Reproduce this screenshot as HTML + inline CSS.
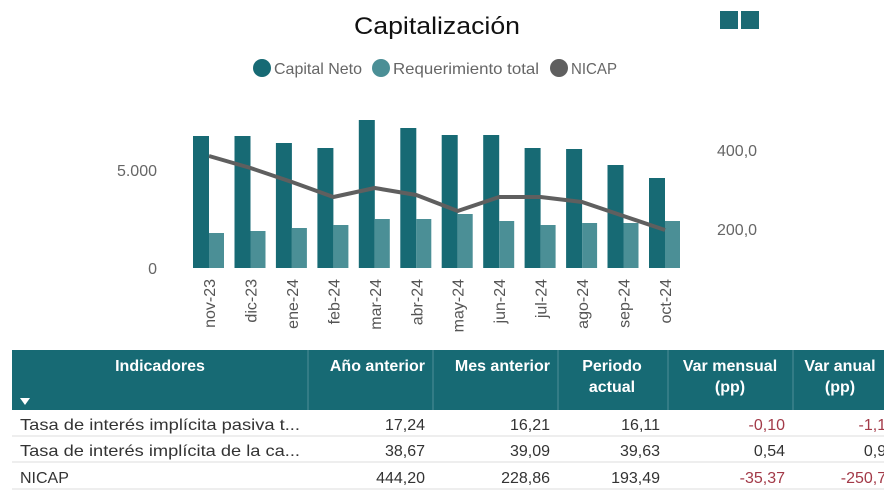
<!DOCTYPE html>
<html><head><meta charset="utf-8"><style>
html,body{margin:0;padding:0;background:#fff;}
svg{display:block;font-family:"Liberation Sans",sans-serif;}
</style></head><body>
<svg width="884" height="500" viewBox="0 0 884 500" xmlns="http://www.w3.org/2000/svg">
<rect width="884" height="500" fill="#fff"/>
<text x="437" y="34" font-size="24" text-anchor="middle" fill="#111" textLength="166" lengthAdjust="spacingAndGlyphs">Capitalización</text>
<rect x="720" y="11" width="18" height="18" fill="#1b6a74"/>
<rect x="741" y="11" width="18" height="18" fill="#1b6a74"/>
<circle cx="262" cy="68" r="9" fill="#176a74"/>
<text x="274" y="74" font-size="16" fill="#666" textLength="88" lengthAdjust="spacingAndGlyphs">Capital Neto</text>
<circle cx="381" cy="68" r="9" fill="#4b8f96"/>
<text x="393" y="74" font-size="16" fill="#666" textLength="146" lengthAdjust="spacingAndGlyphs">Requerimiento total</text>
<circle cx="559" cy="68" r="9" fill="#5f5f5f"/>
<text x="571" y="74" font-size="16" fill="#666" textLength="46" lengthAdjust="spacingAndGlyphs">NICAP</text>
<text x="157" y="176" font-size="16" fill="#666" text-anchor="end">5.000</text>
<text x="157" y="274" font-size="16" fill="#666" text-anchor="end">0</text>
<text x="717" y="156" font-size="16" fill="#666">400,0</text>
<text x="717" y="235" font-size="16" fill="#666">200,0</text>
<g id="bars"></g>
<g fill="#176a74">
<rect x="193" y="136" width="16" height="132"/>
<rect x="234.5" y="136" width="16" height="132"/>
<rect x="275.9" y="143" width="16" height="125"/>
<rect x="317.4" y="148" width="16" height="120"/>
<rect x="358.8" y="120" width="16" height="148"/>
<rect x="400.3" y="128" width="16" height="140"/>
<rect x="441.7" y="135" width="16" height="133"/>
<rect x="483.2" y="135" width="16" height="133"/>
<rect x="524.6" y="148" width="16" height="120"/>
<rect x="566.1" y="149" width="16" height="119"/>
<rect x="607.5" y="165" width="16" height="103"/>
<rect x="649" y="178" width="16" height="90"/>
</g>
<g fill="#4b8f96">
<rect x="209" y="233" width="15" height="35"/>
<rect x="250.5" y="231" width="15" height="37"/>
<rect x="291.9" y="228" width="15" height="40"/>
<rect x="333.4" y="225" width="15" height="43"/>
<rect x="374.8" y="219" width="15" height="49"/>
<rect x="416.3" y="219" width="15" height="49"/>
<rect x="457.7" y="214" width="15" height="54"/>
<rect x="499.2" y="221" width="15" height="47"/>
<rect x="540.6" y="225" width="15" height="43"/>
<rect x="582.1" y="223" width="15" height="45"/>
<rect x="623.5" y="223" width="15" height="45"/>
<rect x="665" y="221" width="15" height="47"/>
</g>
<polyline fill="none" stroke="#5f5f5f" stroke-width="4" stroke-linejoin="round" points="209,156 250.5,168 291.9,182 333.4,197 374.8,188 416.3,195 457.7,211 499.2,197 540.6,197 582.1,202 623.5,216 665,230"/>
<g font-size="16" fill="#555" text-anchor="end">
<text transform="translate(215,279) rotate(-90)">nov-23</text>
<text transform="translate(256.5,279) rotate(-90)">dic-23</text>
<text transform="translate(297.9,279) rotate(-90)">ene-24</text>
<text transform="translate(339.4,279) rotate(-90)">feb-24</text>
<text transform="translate(380.8,279) rotate(-90)">mar-24</text>
<text transform="translate(422.3,279) rotate(-90)">abr-24</text>
<text transform="translate(463.7,279) rotate(-90)">may-24</text>
<text transform="translate(505.2,279) rotate(-90)">jun-24</text>
<text transform="translate(546.6,279) rotate(-90)">jul-24</text>
<text transform="translate(588.1,279) rotate(-90)">ago-24</text>
<text transform="translate(629.5,279) rotate(-90)">sep-24</text>
<text transform="translate(671,279) rotate(-90)">oct-24</text>
</g>
<!-- table -->
<rect x="12" y="350" width="872" height="60" fill="#176a74"/>
<g stroke="#4f8f97" stroke-width="1">
<line x1="308" y1="350" x2="308" y2="410"/><line x1="433" y1="350" x2="433" y2="410"/>
<line x1="558" y1="350" x2="558" y2="410"/><line x1="668" y1="350" x2="668" y2="410"/>
<line x1="793" y1="350" x2="793" y2="410"/>
</g>
<g font-size="16" fill="#fff" font-weight="bold">
<text x="160" y="371" text-anchor="middle">Indicadores</text>
<text x="425" y="371" text-anchor="end">Año anterior</text>
<text x="550" y="371" text-anchor="end">Mes anterior</text>
<text x="612" y="371" text-anchor="middle">Periodo</text>
<text x="612" y="392" text-anchor="middle">actual</text>
<text x="730" y="371" text-anchor="middle">Var mensual</text>
<text x="730" y="392" text-anchor="middle">(pp)</text>
<text x="840" y="371" text-anchor="middle">Var anual</text>
<text x="840" y="392" text-anchor="middle">(pp)</text>
</g>
<polygon points="20,398 30,398 25,405" fill="#fff"/>
<g stroke="#ddd"><line x1="12" y1="436" x2="884" y2="436"/><line x1="12" y1="462" x2="884" y2="462"/><line x1="12" y1="489" x2="884" y2="489"/></g>
<g font-size="16" fill="#333">
<text x="20" y="430" textLength="280" lengthAdjust="spacingAndGlyphs">Tasa de interés implícita pasiva t...</text>
<text x="20" y="456" textLength="280" lengthAdjust="spacingAndGlyphs">Tasa de interés implícita de la ca...</text>
<text x="20" y="483">NICAP</text>
<g text-anchor="end">
<text x="425" y="430">17,24</text><text x="550" y="430">16,21</text><text x="660" y="430">16,11</text>
<text x="425" y="456">38,67</text><text x="550" y="456">39,09</text><text x="660" y="456">39,63</text>
<text x="785" y="456">0,54</text><text x="895" y="456">0,94</text>
<text x="425" y="483">444,20</text><text x="550" y="483">228,86</text><text x="660" y="483">193,49</text>
</g>
<g text-anchor="end" fill="#a33a48">
<text x="785" y="430">-0,10</text><text x="895" y="430">-1,13</text>
<text x="785" y="483">-35,37</text><text x="895" y="483">-250,71</text>
</g>
</g>
</svg>
</body></html>
